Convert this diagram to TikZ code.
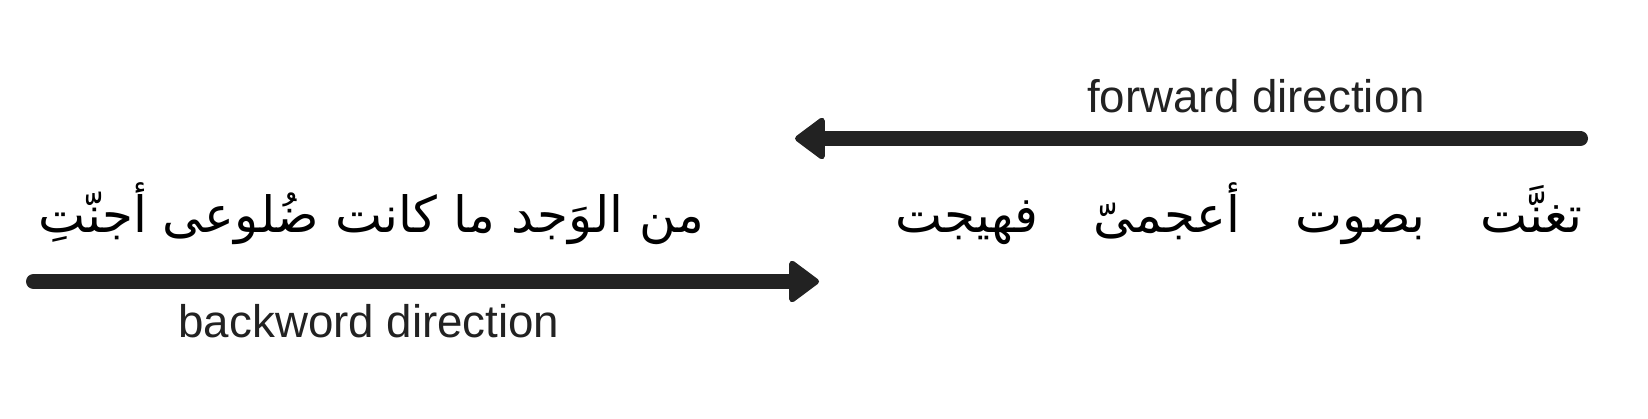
\documentclass[tikz,border=0pt]{standalone}
\usepackage{fontspec}
\setmainfont{Liberation Sans}
\newfontfamily\arabicfont[Script=Arabic]{DejaVu Sans}
\TeXXeTstate=1
\usetikzlibrary{arrows.meta}
\definecolor{inkgray}{HTML}{222222}
\begin{document}
\begin{tikzpicture}
[x=1pt,y=-1pt,
  labeldecorate/.style={anchor=base,inner sep=0pt,text=inkgray,
    font=\fontsize{45.7}{55}\selectfont},%
  arabicdecorate/.style={anchor=base,inner sep=0pt,text=black,
    font=\arabicfont\fontsize{50}{60}\selectfont},%
  arrowdecorate/.style={-{Triangle[length=32pt,width=46pt,round,line width=6pt]},
    line width=15pt,line cap=round,draw=inkgray,fill=inkgray}]
\useasboundingbox (0,0) rectangle (1648,418);
%% arrow ends
\coordinate (fwdstart) at (1580.5,138.5);
\coordinate (fwdend) at (795,138.5);
\coordinate (bwdstart) at (33.5,281.5);
\coordinate (bwdend) at (819,281.5);
%% labels
\node (fwdlabel) at (1256,112) [labeldecorate] {forward direction};
\node (bwdlabel) at (369,337) [labeldecorate] {backword direction};
%% verse
\node (firsthalf) at (1239,232) [arabicdecorate]
  {\beginR تغنَّت\hspace{1.1em}بصوت\hspace{1.1em}أعجمىّ\hspace{1.1em}فهيجت\endR};
\node (secondhalf) at (371,232) [arabicdecorate]
  {\beginR من الوَجد ما كانت ضُلوعى أجنّتِ\endR};
%% arrows
\draw[arrowdecorate] (fwdstart) -- (fwdend);
\draw[arrowdecorate] (bwdstart) -- (bwdend);
\end{tikzpicture}
\end{document}
